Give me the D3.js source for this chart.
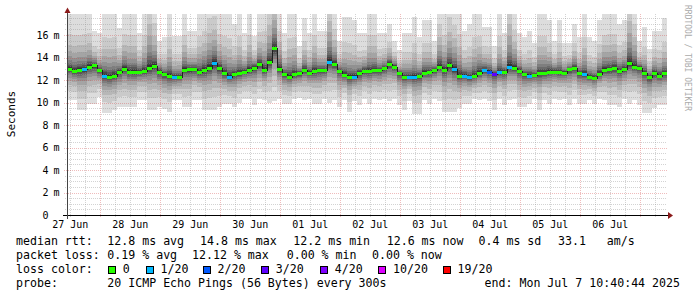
<!DOCTYPE html>
<html>
<head>
<meta charset="utf-8">
<script src="https://cdn.jsdelivr.net/npm/d3@7"></script>
<style>
  body { margin: 0; background: #fff; }
  svg { display: block; }
  text { font-family: "DejaVu Sans Mono", monospace; fill: #000; }
</style>
</head>
<body>
<svg id="chart" width="697" height="297"></svg>
<script>
// one column = 2 hours, 120 columns = 10 days ending Mon Jul 7 10:40:44 2025
const medianRtt = [
  13.0, 12.8, 12.9, 12.95, 13.2, 13.3, 12.85, 12.4, 12.3, 12.4,
  12.7, 13.0, 12.75, 12.75, 12.75, 12.8, 13.1, 13.27, 12.75, 12.5,
  12.35, 12.25, 12.3, 12.9, 12.95, 12.95, 12.7, 12.9, 13.1, 13.5,
  13.05, 12.6, 12.3, 12.5, 12.6, 12.75, 12.9, 13.1, 13.4, 12.9,
  13.6, 14.8, 13.0, 12.5, 12.3, 12.5, 12.6, 12.9, 12.65, 12.8,
  12.86, 12.86, 13.6, 13.4, 12.8, 12.45, 12.3, 12.3, 12.6, 12.8,
  12.8, 12.85, 12.85, 13.05, 13.4, 13.2, 12.6, 12.3, 12.3, 12.3,
  12.4, 12.65, 12.7, 12.85, 13.2, 12.9, 13.3, 12.95, 12.4, 12.4,
  12.25, 12.35, 12.65, 12.85, 12.75, 12.55, 12.7, 12.7, 13.15, 13.1,
  12.8, 12.5, 12.4, 12.45, 12.6, 12.6, 12.75, 12.75, 12.7, 12.65,
  12.95, 13.05, 12.6, 12.5, 12.3, 12.2, 12.55, 12.9, 12.95, 13.05,
  12.8, 12.95, 13.5, 13.2, 13.1, 12.65, 12.25, 12.6, 12.4, 12.6
];
// slowest ping (top of the smoke), ms
const maxRtt = [
  18.5, 18.5, 18.5, 18.5, 18.5, 16.4, 16.2, 18.5, 18.5, 18.5,
  16.6, 18.5, 18.5, 18.5, 16.2, 18.5, 23, 20, 15.5, 15.8,
  18.5, 15.9, 15.9, 18.5, 16.4, 16.4, 18.5, 19, 21, 21,
  18.5, 18.5, 18.5, 17.0, 18.5, 16.2, 18.5, 15.9, 18.5, 19,
  22, 24, 19, 16.2, 18.5, 18.5, 15.0, 17.5, 16.2, 18.5,
  16.4, 16.4, 23, 19, 15.5, 17.6, 17.6, 17.3, 16.2, 16.2,
  18.5, 18.5, 16.2, 16.2, 17.0, 15.5, 14.7, 16.2, 16.2, 17.6,
  15.8, 17.3, 17.3, 15.5, 20, 18.5, 21, 20, 19, 16.4,
  17.0, 18.5, 18.5, 16.7, 16.7, 15.0, 18.5, 16.2, 23, 19,
  16.2, 15.8, 16.4, 15.3, 18.5, 18.5, 17.3, 15.5, 17.3, 15.3,
  15.3, 17.0, 15.8, 18.5, 15.8, 15.5, 17.3, 18.5, 18.5, 18.5,
  17.0, 17.3, 23, 20, 15.5, 16.7, 14.8, 16.4, 16.4, 17.5
];
// fastest ping (bottom of the smoke), ms
const minRtt = [
  10.2, 10.2, 9.3, 9.3, 9.9, 9.9, 10.5, 9.1, 9.1, 9.3,
  9.6, 9.6, 9.6, 9.6, 10.2, 10.2, 9.3, 9.3, 9.6, 9.4,
  9.2, 10.2, 10.2, 9.6, 9.6, 10.2, 10.2, 9.3, 9.3, 9.3,
  9.6, 9.9, 9.9, 9.6, 10.0, 10.3, 10.3, 9.8, 10.3, 10.2,
  10.0, 10.1, 10.3, 9.9, 9.9, 10.3, 10.4, 10.2, 10.3, 9.9,
  9.9, 10.3, 10.0, 10.2, 9.6, 10.2, 9.2, 10.1, 9.8, 10.3,
  9.9, 10.3, 10.2, 10.3, 10.1, 10.3, 9.8, 9.3, 10.1, 9.0,
  9.0, 10.2, 9.9, 10.3, 10.1, 9.2, 9.2, 9.2, 9.5, 9.9,
  9.9, 10.3, 10.2, 10.3, 10.1, 9.3, 10.3, 9.8, 10.2, 10.3,
  9.6, 9.6, 9.9, 10.3, 9.3, 10.2, 9.9, 10.3, 10.2, 10.3,
  9.8, 10.3, 9.9, 9.9, 10.2, 9.9, 10.3, 10.2, 9.8, 9.8,
  9.6, 10.3, 9.9, 10.2, 9.8, 9.1, 9.1, 9.5, 9.8, 9.8
];
// lost pings out of 20, per column
const lossCount = [
  0, 0, 0, 1, 0, 0, 0, 1, 0, 0,
  0, 0, 0, 0, 0, 0, 0, 0, 0, 0,
  0, 1, 0, 0, 0, 0, 0, 0, 0, 1,
  0, 0, 1, 0, 0, 0, 0, 0, 0, 0,
  0, 0, 0, 0, 0, 0, 0, 0, 0, 0,
  0, 0, 1, 0, 0, 0, 0, 1, 0, 0,
  0, 0, 0, 0, 0, 0, 0, 0, 1, 1,
  0, 0, 0, 0, 0, 0, 0, 1, 0, 1,
  1, 0, 0, 1, 2, 3, 1, 0, 1, 0,
  0, 0, 1, 0, 0, 0, 0, 0, 0, 0,
  0, 0, 0, 1, 0, 0, 0, 0, 0, 0,
  0, 0, 0, 0, 0, 0, 0, 0, 0, 0
];

// how far each smoke band reaches, as a share of the distance median -> extreme (outer to inner)
const upperShape = [1, 0.56, 0.39, 0.28, 0.2, 0.14, 0.1, 0.068, 0.044, 0.024];
const lowerShape = [1, 0.72, 0.52, 0.38, 0.28, 0.2, 0.14, 0.095, 0.06, 0.03];

const lossLevels = ["0", "1/20", "2/20", "3/20", "4/20", "10/20", "19/20"];
const lossSteps = [0, 1, 2, 3, 4, 10, 19];
const lossColors = ["#26ff00", "#00b8ff", "#0059ff", "#5e00ff", "#7e00ff", "#dd00ff", "#ff0000"];

const yMajor = [0, 2, 4, 6, 8, 10, 12, 14, 16];

const legendRtt = ["median rtt:", "12.8 ms avg", "14.8 ms max", "12.2 ms min", "12.6 ms now", "0.4 ms sd", "33.1", "am/s"];
const legendLoss = ["packet loss:", "0.19 % avg", "12.12 % max", "0.00 % min", "0.00 % now"];
const probeText = "20 ICMP Echo Pings (56 Bytes) every 300s";
const endText = "end: Mon Jul  7 10:40:44 2025";

const endTime = new Date(Date.UTC(2025, 6, 7, 10, 40, 44));
const startTime = new Date(+endTime - 10 * 86400000);
const step = 2 * 3600000;

const svg = d3.select("#chart");
const plotL = 67, plotR = 667, plotT = 14, plotB = 215;

const x = d3.scaleUtc().domain([startTime, endTime]).range([plotL, plotR]);
const y = d3.scaleLinear().domain([0, (plotB - plotT) / 11.25]).range([plotB, plotT]);

const cols = medianRtt.map((m, i) => ({
  t0: new Date(+startTime + i * step),
  t1: new Date(+startTime + (i + 1) * step),
  med: m, hi: maxRtt[i], lo: minRtt[i], loss: lossCount[i]
}));

svg.append("defs").append("clipPath").attr("id", "plot")
  .append("rect").attr("x", plotL).attr("y", plotT).attr("width", plotR - plotL).attr("height", plotB - plotT);

// smoke
const smoke = svg.append("g").attr("clip-path", "url(#plot)").attr("shape-rendering", "crispEdges");
upperShape.forEach((fu, k) => {
  const g = 50 + Math.floor(190 / 10 * (10 - (k + 1)));
  const fl = lowerShape[k];
  smoke.append("g").attr("fill", d3.rgb(g, g, g))
    .selectAll("rect").data(cols).join("rect")
    .attr("x", d => x(d.t0))
    .attr("width", d => x(d.t1) - x(d.t0))
    .attr("y", d => y(d.med + (d.hi - d.med) * fu))
    .attr("height", d => y(d.med - (d.med - d.lo) * fl) - y(d.med + (d.hi - d.med) * fu));
});

// grid
const grid = svg.append("g").attr("stroke-dasharray", "1,1").attr("stroke-width", 1).attr("shape-rendering", "crispEdges");
const minorX = d3.utcHour.every(6).range(startTime, endTime).filter(t => t.getUTCHours() !== 0);
const majorX = d3.utcDay.range(startTime, endTime);
const minorY = d3.range(0.5, y.domain()[1], 0.5).filter(v => v % 2 !== 0);
const majorY = yMajor.filter(v => v > 0);
const minorColor = "rgba(150,150,150,0.42)", majorColor = "rgba(210,70,70,0.36)";

grid.selectAll(".vx").data(minorX).join("line").attr("class", "vx")
  .attr("x1", d => Math.round(x(d)) + 0.5).attr("x2", d => Math.round(x(d)) + 0.5)
  .attr("y1", plotT).attr("y2", plotB + 2).attr("stroke", minorColor);
grid.selectAll(".vy").data(minorY).join("line").attr("class", "vy")
  .attr("x1", plotL - 2).attr("x2", plotR)
  .attr("y1", d => Math.round(y(d)) + 0.5).attr("y2", d => Math.round(y(d)) + 0.5)
  .attr("stroke", minorColor);
grid.selectAll(".mx").data(majorX).join("line").attr("class", "mx")
  .attr("x1", d => Math.round(x(d)) + 0.5).attr("x2", d => Math.round(x(d)) + 0.5)
  .attr("y1", plotT).attr("y2", plotB + 3).attr("stroke", majorColor);
grid.selectAll(".my").data(majorY).join("line").attr("class", "my")
  .attr("x1", plotL - 3).attr("x2", plotR)
  .attr("y1", d => Math.round(y(d)) + 0.5).attr("y2", d => Math.round(y(d)) + 0.5)
  .attr("stroke", majorColor);

// median line: thin dark step line, loss colored segments on top
const stepPts = cols.map(d => [x(d.t0), Math.round(y(d.med))]);
stepPts.push([x(cols[cols.length - 1].t1), Math.round(y(cols[cols.length - 1].med))]);
svg.append("path")
  .attr("d", d3.line().curve(d3.curveStepAfter)(stepPts.map(p => [p[0], p[1] + 0.5])))
  .attr("fill", "none").attr("stroke", "#202020").attr("stroke-width", 1)
  .attr("shape-rendering", "crispEdges");

const lossColor = n => {
  let c = lossColors[0];
  lossSteps.forEach((s, i) => { if (n >= s) c = lossColors[i]; });
  return c;
};
svg.append("g").attr("shape-rendering", "crispEdges")
  .selectAll("rect").data(cols).join("rect")
  .attr("x", d => x(d.t0))
  .attr("width", d => x(d.t1) - x(d.t0))
  .attr("y", d => Math.round(y(d.med)) - 1)
  .attr("height", 3)
  .attr("fill", d => lossColor(d.loss));

// axes
const axis = svg.append("g").attr("shape-rendering", "crispEdges");
axis.append("line").attr("x1", plotL - 4).attr("x2", plotR + 2).attr("y1", plotB + 0.5).attr("y2", plotB + 0.5)
  .attr("stroke", "#000");
axis.append("line").attr("x1", plotL + 0.5).attr("x2", plotL + 0.5).attr("y1", plotB + 4).attr("y2", plotT - 4)
  .attr("stroke", "#444");
svg.append("path").attr("d", `M${plotR + 1},${plotB - 3}L${plotR + 6},${plotB + 0.5}L${plotR + 1},${plotB + 4}Z`)
  .attr("fill", "#8b1a1a");
svg.append("path").attr("d", `M${plotL - 2.5},${plotT - 1}L${plotL + 0.5},${plotT - 6.5}L${plotL + 3.5},${plotT - 1}Z`)
  .attr("fill", "#8b1a1a");

// y labels
const yl = svg.append("g").attr("font-size", "10px");
yl.selectAll(".n").data(yMajor).join("text").attr("class", "n")
  .attr("x", 48.5).attr("y", d => y(d) + 3.6).attr("text-anchor", "end").text(d => d);
yl.selectAll(".u").data(majorY).join("text").attr("class", "u")
  .attr("x", 53.5).attr("y", d => y(d) + 3.6).text("m");

// x labels at noon
const fmt = d3.utcFormat("%d %b");
const noon = d3.utcDay.range(d3.utcDay.offset(startTime, -1), endTime)
  .map(d => d3.utcHour.offset(d, 12)).filter(d => d >= startTime && d <= endTime);
svg.append("g").attr("font-size", "10px").selectAll("text").data(noon).join("text")
  .attr("x", d => x(d)).attr("y", 228).attr("text-anchor", "middle").text(d => fmt(d));

// titles
svg.append("text").attr("transform", "translate(14.5,114) rotate(-90)")
  .attr("text-anchor", "middle").attr("font-size", "11px").text("Seconds");
svg.append("text").attr("transform", "translate(685,5) rotate(90)")
  .attr("font-size", "8px").style("fill", "#aaa").text("RRDTOOL / TOBI OETIKER");

// legend
const leg = svg.append("g").attr("font-size", "11.6px").attr("xml:space", "preserve");
const rttX = [16, 107.3, 200, 293.3, 386.7, 478.5, 558, 606.7];
legendRtt.forEach((s, i) => leg.append("text").attr("x", rttX[i]).attr("y", 244.5).text(s));
const lossX = [16, 107.3, 192, 286.7, 372];
legendLoss.forEach((s, i) => leg.append("text").attr("x", lossX[i]).attr("y", 258.5).text(s));
leg.append("text").attr("x", 16).attr("y", 272.5).text("loss color:");
const boxX = [108, 145.7, 202.7, 261, 320, 378.3, 442.7];
lossLevels.forEach((s, i) => {
  const bx = Math.round(boxX[i]);
  leg.append("rect").attr("x", bx + 0.5).attr("y", 266.5).attr("width", 7).attr("height", 7)
    .attr("fill", lossColors[i]).attr("stroke", "#000").attr("shape-rendering", "crispEdges");
  leg.append("text").attr("x", boxX[i] + 14.8).attr("y", 272.5).text(s);
});
leg.append("text").attr("x", 16).attr("y", 286.5).text("probe:");
leg.append("text").attr("x", 107.3).attr("y", 286.5).text(probeText);
leg.append("text").attr("x", 680).attr("y", 286.5).attr("text-anchor", "end").text(endText);
</script>
</body>
</html>
